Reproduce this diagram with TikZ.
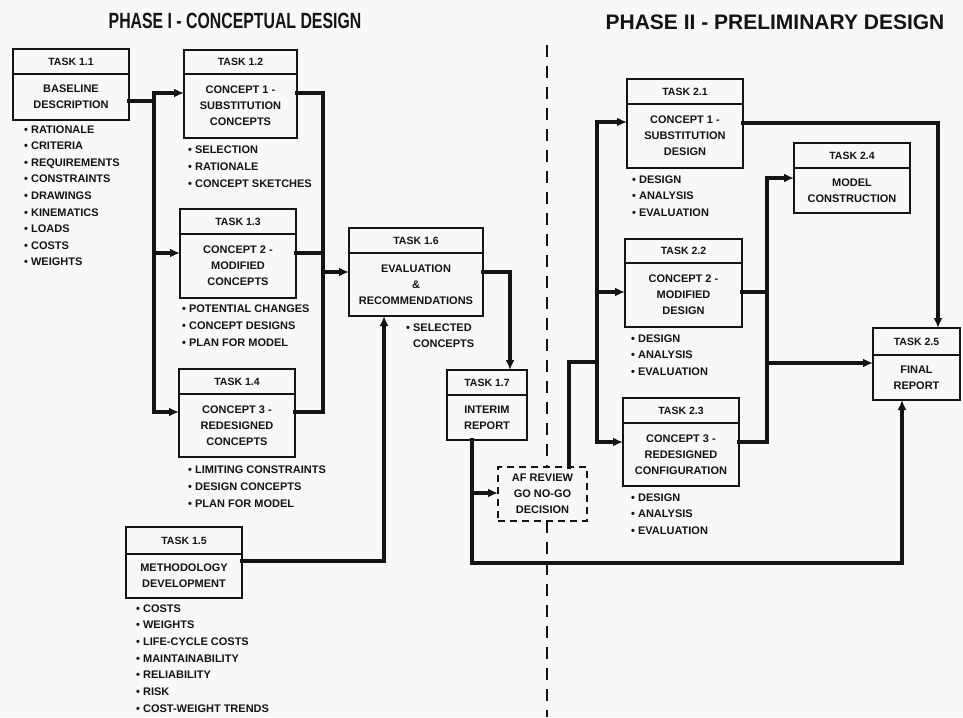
\documentclass[tikz,border=0pt]{standalone}
\usepackage{fontspec}
\setmainfont{Liberation Sans}
\usepackage{graphicx}
\usetikzlibrary{arrows.meta}
\definecolor{ink}{HTML}{141414}
\definecolor{paper}{HTML}{F8F8F6}
\tikzset{
  taskbox/.style={draw=ink, line width=1.9pt, inner sep=0pt, outer sep=0pt, rectangle},
  afbox/.style={draw=ink, line width=1.7pt, dash pattern=on 7pt off 5pt, inner sep=0pt, outer sep=0pt, minimum width=89pt, minimum height=54pt},
  boxline/.style={draw=ink, line width=1.7pt},
  hdr/.style={text=ink, font=\fontsize{10.5}{12}\selectfont\bfseries, inner sep=0pt},
  bodytxt/.style={text=ink, font=\fontsize{11}{16}\selectfont\bfseries, align=center, inner sep=0pt},
  bultxt/.style={text=ink, font=\fontsize{11}{12}\selectfont\bfseries, anchor=base west, inner sep=0pt},
  conn/.style={draw=ink, line width=3.2pt, line cap=rect, line join=miter},
  arr/.style={conn, -{Latex[length=10pt,width=9pt]}},
  divider/.style={draw=ink, line width=2.8pt, dash pattern=on 12pt off 9pt},
  ttl/.style={text=ink, inner sep=0pt}
}
% name, x1, y1, x2, y2, ydiv, header, body
\newcommand\tbox[8]{%
  \pgfmathsetmacro\tbw{#4-#2}\pgfmathsetmacro\tbh{#5-#3}%
  \pgfmathsetmacro\tbcx{(#2+#4)/2}\pgfmathsetmacro\tbcy{(#3+#5)/2}%
  \pgfmathsetmacro\tbhy{(#3+#6)/2}\pgfmathsetmacro\tbby{(#6+#5)/2}%
  \node[taskbox, minimum width=\tbw pt, minimum height=\tbh pt] (#1) at (\tbcx,\tbcy) {};
  \draw[boxline] (#2,#6) -- (#4,#6);
  \node[hdr] (#1h) at (\tbcx,\tbhy) {#7};
  \node[bodytxt] (#1b) at (\tbcx,\tbby) {#8};
}
\begin{document}
\begin{tikzpicture}[x=1pt,y=-1pt]
\fill[paper] (0,0) rectangle (963,717);
\useasboundingbox (0,0) rectangle (963,717);

% titles
\node[ttl, font=\fontsize{22}{22}\selectfont\bfseries] (ph1) at (235,21) {\scalebox{0.72}[1]{PHASE I - CONCEPTUAL DESIGN}};
\node[ttl, font=\fontsize{21}{21}\selectfont\bfseries] (ph2) at (775,22) {PHASE II - PRELIMINARY DESIGN};

% Phase I boxes
\tbox{t11}{13}{49}{129}{120}{74}{TASK 1.1}{BASELINE\\DESCRIPTION}
\tbox{t12}{184}{50}{297}{138}{74}{TASK 1.2}{CONCEPT 1 -\\SUBSTITUTION\\CONCEPTS}
\tbox{t13}{180}{209}{296}{298}{234}{TASK 1.3}{CONCEPT 2 -\\MODIFIED\\CONCEPTS}
\tbox{t14}{179}{369}{295}{457}{394}{TASK 1.4}{CONCEPT 3 -\\REDESIGNED\\CONCEPTS}
\tbox{t15}{126}{527}{242}{598}{554}{TASK 1.5}{METHODOLOGY\\DEVELOPMENT}
\tbox{t16}{349}{228}{483}{316}{253}{TASK 1.6}{EVALUATION\\\&\\RECOMMENDATIONS}
\tbox{t17}{447}{370}{527}{440}{395}{TASK 1.7}{INTERIM\\REPORT}
\node[afbox, bodytxt] (af) at (542.5,494) {AF REVIEW\\GO NO-GO\\DECISION};

% Phase II boxes
\tbox{t21}{627}{79}{743}{168}{104}{TASK 2.1}{CONCEPT 1 -\\SUBSTITUTION\\DESIGN}
\tbox{t22}{625}{239}{742}{327}{263}{TASK 2.2}{CONCEPT 2 -\\MODIFIED\\DESIGN}
\tbox{t23}{623}{398}{739}{486}{423}{TASK 2.3}{CONCEPT 3 -\\REDESIGNED\\CONFIGURATION}
\tbox{t24}{794}{143}{910}{213}{168}{TASK 2.4}{MODEL\\CONSTRUCTION}
\tbox{t25}{873}{328}{960}{400}{355}{TASK 2.5}{FINAL\\REPORT}

% bullet lists
\foreach \t [count=\i] in {RATIONALE,CRITERIA,REQUIREMENTS,CONSTRAINTS,DRAWINGS,KINEMATICS,LOADS,COSTS,WEIGHTS}
  \node[bultxt] (b11-\i) at (24,{133+(\i-1)*16.6}) {•\ \t};
\foreach \t [count=\i] in {SELECTION,RATIONALE,CONCEPT SKETCHES}
  \node[bultxt] (b12-\i) at (188,{153+(\i-1)*17}) {•\ \t};
\foreach \t [count=\i] in {POTENTIAL CHANGES,CONCEPT DESIGNS,PLAN FOR MODEL}
  \node[bultxt] (b13-\i) at (182,{312+(\i-1)*17}) {•\ \t};
\foreach \t [count=\i] in {LIMITING CONSTRAINTS,DESIGN CONCEPTS,PLAN FOR MODEL}
  \node[bultxt] (b14-\i) at (188,{473+(\i-1)*17}) {•\ \t};
\foreach \t [count=\i] in {COSTS,WEIGHTS,LIFE-CYCLE COSTS,MAINTAINABILITY,RELIABILITY,RISK,COST-WEIGHT TRENDS}
  \node[bultxt] (b15-\i) at (136,{612+(\i-1)*16.7}) {•\ \t};
\node[bultxt] (b16-1) at (406,331) {•\ SELECTED};
\node[bultxt] (b16-2) at (406,347) {\phantom{•\ }CONCEPTS};
\foreach \t [count=\i] in {DESIGN,ANALYSIS,EVALUATION}
  \node[bultxt] (b21-\i) at (632,{183+(\i-1)*16.7}) {•\ \t};
\foreach \t [count=\i] in {DESIGN,ANALYSIS,EVALUATION}
  \node[bultxt] (b22-\i) at (631,{342+(\i-1)*16.7}) {•\ \t};
\foreach \t [count=\i] in {DESIGN,ANALYSIS,EVALUATION}
  \node[bultxt] (b23-\i) at (631,{501+(\i-1)*16.7}) {•\ \t};

% phase divider
\coordinate (dv) at (547,45);
\coordinate (dvb) at (547,717);
\draw[divider] (dv) -- (dv |- af.north);
\draw[divider] (dvb |- af.south) -- (dvb);

% Phase I connectors
\coordinate (L1top) at (154,93);
\coordinate (L1mid) at (154,101);
\coordinate (L1c) at (154,253);
\coordinate (L1bot) at (154,412);
\draw[conn] (t11.east |- L1mid) -- (L1mid);
\draw[conn] (L1top) -- (L1bot);
\draw[arr] (L1top) -- (t12.west |- L1top);
\draw[arr] (L1c) -- (t13.west |- L1c);
\draw[arr] (L1bot) -- (t14.west |- L1bot);

\coordinate (R1top) at (323,93);
\coordinate (R1c) at (323,253);
\coordinate (R1o) at (323,272);
\coordinate (R1bot) at (323,412);
\draw[conn] (t12.east |- R1top) -- (R1top) -- (R1bot) -- (t14.east |- R1bot);
\draw[conn] (t13.east |- R1c) -- (R1c);
\draw[arr] (R1o) -- (t16.west |- R1o);

\coordinate (c15) at (384,561);
\draw[arr] (t15.east |- c15) -- (c15) -- (c15 |- t16.south);

\coordinate (c16) at (510,272);
\draw[arr] (t16.east |- c16) -- (c16) -- (c16 |- t17.north);

\coordinate (c17) at (472,563);
\coordinate (c25) at (902,563);
\draw[arr] (c17 |- t17.south) -- (c17) -- (c25) -- (c25 |- t25.south);
\coordinate (c17b) at (472,493);
\draw[arr] (c17b) -- (af.west |- c17b);

% Phase II connectors
\coordinate (caf) at (569,362);
\coordinate (L2j) at (597,362);
\draw[conn] (caf |- af.north) -- (caf) -- (L2j);
\coordinate (L2top) at (597,122);
\coordinate (L2c) at (597,292);
\coordinate (L2bot) at (597,442);
\draw[conn] (L2top) -- (L2bot);
\draw[arr] (L2top) -- (t21.west |- L2top);
\draw[arr] (L2c) -- (t22.west |- L2c);
\draw[arr] (L2bot) -- (t23.west |- L2bot);

\coordinate (c21) at (938,123);
\draw[arr] (t21.east |- c21) -- (c21) -- (c21 |- t25.north);

\coordinate (R2top) at (767,178);
\coordinate (R2c) at (767,292);
\coordinate (R2j) at (767,363);
\coordinate (R2bot) at (767,442);
\draw[conn] (R2top) -- (R2bot) -- (t23.east |- R2bot);
\draw[conn] (t22.east |- R2c) -- (R2c);
\draw[arr] (R2top) -- (t24.west |- R2top);
\draw[arr] (R2j) -- (t25.west |- R2j);
\end{tikzpicture}
\end{document}
